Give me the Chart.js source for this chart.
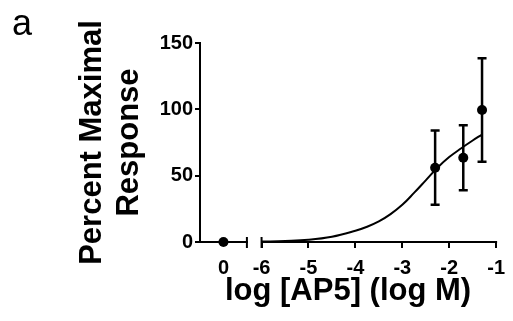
<!DOCTYPE html>
<html>
<head>
<meta charset="utf-8">
<script src="https://cdn.jsdelivr.net/npm/chart.js@4.4.1/dist/chart.umd.min.js"></script>
<style>
  html, body { margin: 0; padding: 0; background: #fff; }
  canvas { display: block; }
</style>
</head>
<body>
<canvas id="chart" width="513" height="321"></canvas>
<script>
// ---- data ----
const panelLabel = 'a';
const yTitle = ['Percent Maximal', 'Response'];
const xTitle = 'log [AP5] (log M)';

// vehicle control, plotted on its own short segment before the axis break
const controlLabel = '0';
const controlResponse = [0];

// AP5 concentrations (log M), mean response and error
const logDose = [-2.3, -1.7, -1.3];
const response = [56, 63.5, 99.5];
const responseError = [28, 24.5, 39];

// fitted concentration-response curve
const fitLogDose = [-6, -5.5, -5, -4.5, -4, -3.75, -3.5, -3.25, -3, -2.75, -2.5, -2.25, -2, -1.75, -1.5, -1.3];
const fitResponse = [0.3, 0.8, 1.7, 4, 8.5, 11.5, 15.5, 21, 28, 37, 46.5, 56, 64, 70.5, 76.5, 81];

const logTicks = [-6, -5, -4, -3, -2, -1];
const yTicks = [0, 50, 100, 150];

// ---- broken x axis: [control segment] gap [log segment] ----
const CONTROL_SPAN = 1;
const BREAK_GAP = 0.3125;
const toAxis = v => CONTROL_SPAN + BREAK_GAP + (v - logTicks[0]);
const controlPos = CONTROL_SPAN / 2;

const FONT = '"Liberation Sans", Arial, Helvetica, sans-serif';

const brokenAxis = {
  id: 'brokenAxis',
  beforeDatasetsDraw(chart) {
    const { ctx, scales: { x, y } } = chart;
    const y0 = y.getPixelForValue(0);
    const segs = [
      [x.getPixelForValue(0) - 1, x.getPixelForValue(CONTROL_SPAN)],
      [x.getPixelForValue(toAxis(logTicks[0])), x.getPixelForValue(toAxis(logTicks[logTicks.length - 1]))]
    ];
    ctx.save();
    ctx.strokeStyle = '#000';
    ctx.lineWidth = 2;
    ctx.lineCap = 'butt';
    segs.forEach(([a, b]) => {
      ctx.beginPath();
      ctx.moveTo(a, y0);
      ctx.lineTo(b + 1, y0);
      ctx.stroke();
    });
    // end caps either side of the break
    [x.getPixelForValue(CONTROL_SPAN), x.getPixelForValue(toAxis(logTicks[0]))].forEach(px => {
      ctx.beginPath();
      ctx.moveTo(px, y0 - 5);
      ctx.lineTo(px, y0 + 6);
      ctx.stroke();
    });
    ctx.restore();
  }
};

const errorBars = {
  id: 'errorBars',
  afterDatasetsDraw(chart) {
    const { ctx, scales: { x, y } } = chart;
    ctx.save();
    ctx.strokeStyle = '#000';
    ctx.lineWidth = 2.5;
    logDose.forEach((d, i) => {
      const px = x.getPixelForValue(toAxis(d));
      const top = y.getPixelForValue(response[i] + responseError[i]);
      const bot = y.getPixelForValue(response[i] - responseError[i]);
      ctx.beginPath();
      ctx.moveTo(px, top);
      ctx.lineTo(px, bot);
      ctx.moveTo(px - 4.5, top);
      ctx.lineTo(px + 4.5, top);
      ctx.moveTo(px - 4.5, bot);
      ctx.lineTo(px + 4.5, bot);
      ctx.stroke();
    });
    ctx.restore();
  }
};

const panelTag = {
  id: 'panelTag',
  afterDraw(chart) {
    const { ctx } = chart;
    ctx.save();
    ctx.fillStyle = '#000';
    ctx.font = '36px ' + FONT;
    ctx.textBaseline = 'alphabetic';
    ctx.textAlign = 'left';
    ctx.fillText(panelLabel, 12, 35);
    ctx.restore();
  }
};

new Chart(document.getElementById('chart'), {
  type: 'scatter',
  data: {
    datasets: [
      {
        data: fitLogDose.map((v, i) => ({ x: toAxis(v), y: fitResponse[i] })),
        showLine: true,
        borderColor: '#000',
        borderWidth: 2,
        pointRadius: 0,
        tension: 0.4,
        clip: false
      },
      {
        data: logDose.map((v, i) => ({ x: toAxis(v), y: response[i] })),
        showLine: false,
        pointRadius: 5,
        pointBackgroundColor: '#000',
        pointBorderWidth: 0,
        clip: false
      },
      {
        data: controlResponse.map(v => ({ x: controlPos, y: v })),
        showLine: false,
        pointRadius: 5,
        pointBackgroundColor: '#000',
        pointBorderWidth: 0,
        clip: false
      }
    ]
  },
  options: {
    responsive: false,
    animation: false,
    events: [],
    layout: { padding: { left: 0, right: 10, top: 43, bottom: 0 } },
    plugins: { legend: { display: false }, tooltip: { enabled: false } },
    scales: {
      x: {
        type: 'linear',
        min: 0,
        max: toAxis(logTicks[logTicks.length - 1]),
        afterBuildTicks: s => {
          s.ticks = [{ value: controlPos }].concat(logTicks.map(t => ({ value: toAxis(t) })));
        },
        afterFit: s => { s.height = 79; },
        border: { display: false },
        grid: {
          drawOnChartArea: false,
          drawTicks: true,
          tickLength: 6,
          lineWidth: 2,
          color: c => (c.index === 0 ? 'rgba(0,0,0,0)' : '#000')
        },
        ticks: {
          autoSkip: false,
          maxRotation: 0,
          padding: 8,
          color: '#000',
          font: { family: FONT, size: 20, weight: 'bold' },
          callback: (v, i) => (i === 0 ? controlLabel : String(logTicks[i - 1]))
        },
        title: {
          display: true,
          text: xTitle,
          color: '#000',
          font: { family: FONT, size: 31, weight: 'bold', lineHeight: 1.2 },
          padding: { top: 0, bottom: 11 }
        }
      },
      y: {
        min: yTicks[0],
        max: yTicks[yTicks.length - 1],
        afterBuildTicks: s => { s.ticks = yTicks.map(v => ({ value: v })); },
        afterFit: s => { s.width = 200; },
        border: { display: true, color: '#000', width: 2 },
        grid: {
          drawOnChartArea: false,
          drawTicks: true,
          tickLength: 5,
          lineWidth: 2,
          color: '#000'
        },
        ticks: {
          padding: 2,
          color: '#000',
          font: { family: FONT, size: 20, weight: 'bold' }
        },
        title: {
          display: true,
          text: yTitle,
          color: '#000',
          font: { family: FONT, size: 31, weight: 'bold', lineHeight: 1.2 },
          padding: { top: 74, bottom: 0 }
        }
      }
    }
  },
  plugins: [brokenAxis, errorBars, panelTag]
});
</script>
</body>
</html>
